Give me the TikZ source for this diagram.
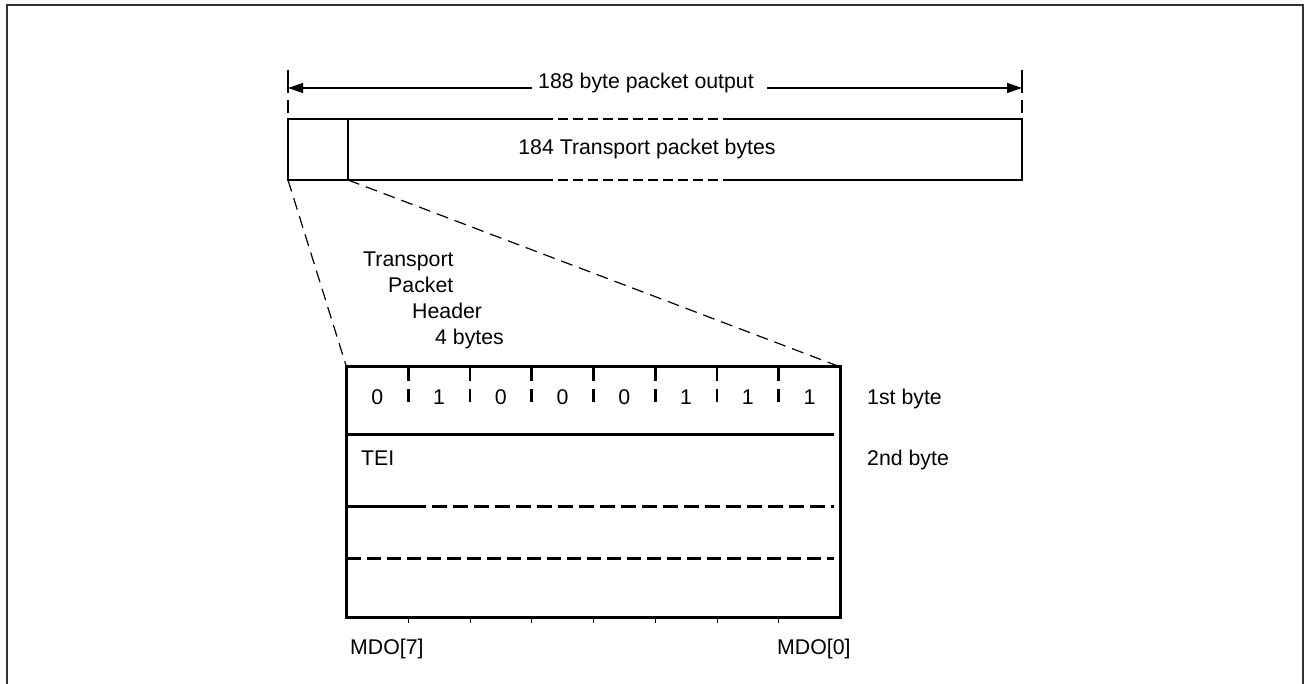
\documentclass[tikz,border=0pt]{standalone}
\usepackage{fontspec}
\setmainfont{Liberation Sans}
\usetikzlibrary{arrows.meta}
\begin{document}
\begin{tikzpicture}[x=1pt,y=-1pt,
  lbl/.style={font=\fontsize{21.3}{25}\selectfont, inner sep=0pt, text height=15.3pt, text depth=0pt},
  thin/.style={line width=1.3pt, black},
  thick/.style={line width=3pt, black},
  zoomline/.style={line width=1.2pt, dash pattern=on 12pt off 7pt},
  dimarrow/.style={line width=1.2pt, -{Triangle[length=15pt,width=10pt]}},
  extline/.style={line width=1.3pt, dash pattern=on 23pt off 7pt on 13pt off 20pt}]
\useasboundingbox (0,0) rectangle (1309,684);
% outer frame
\draw[line width=2pt, black!80] (7,700) -- (7,5) -- (1303,5) -- (1303,700);

% dimension line
\node[lbl] (title) at (646,81) {188 byte packet output};
\coordinate (al) at (288,88);
\coordinate (ar) at (1022,88);
\coordinate (tl) at (532,88);
\coordinate (tr) at (767,88);
\draw[dimarrow] (tl) -- (al);
\draw[dimarrow] (tr) -- (ar);
\draw[extline] (288,70) -- (288,119);
\draw[extline] (1022,70) -- (1022,119);
\draw[line width=2.5pt] (288,70) -- (288,81);
\draw[line width=2.5pt] (1022,70) -- (1022,81);

% packet box
\coordinate (p1) at (288,119);
\coordinate (p2) at (1022,119);
\coordinate (p3) at (1022,180);
\coordinate (p4) at (288,180);
\coordinate (pd1) at (348,119);
\coordinate (pd2) at (348,180);
\draw[thin] (543,119) -- (p1) -- (p4) -- (543,180);
\draw[thin] (730,119) -- (p2) -- (p3) -- (730,180);
\draw[thin, dash pattern=on 10pt off 5pt] (543,119) -- (730,119);
\draw[thin, dash pattern=on 10pt off 5pt] (543,180) -- (730,180);
\draw[thin] (pd1) -- (pd2);
\node[lbl] (payload) at (647,147) {184 Transport packet bytes};

% header box
\coordinate (b1) at (346.5,367);
\coordinate (b2) at (840.5,367);
\coordinate (b3) at (840.5,617);
\coordinate (b4) at (346.5,617);
\draw[zoomline] (p4) -- (b1);
\draw[zoomline] (pd2) -- (b2);
\draw[thick] (b1) rectangle (b3);
\draw[thick] (346.5,434) -- (834,434);
\draw[thick] (346.5,506) -- (411,506);
\draw[thick, dash pattern=on 15pt off 6pt] (411,506) -- (834,506);
\draw[thick, dash pattern=on 14pt off 6pt] (346.5,558) -- (834,558);

\foreach \i in {1,...,7}{
  \draw[line width=2.7pt, dash pattern=on 13pt off 8pt] ({346.5+\i*61.75},368.5) -- ({346.5+\i*61.75},402);
  \draw[line width=1pt] ({346.5+\i*61.75},618.5) -- ({346.5+\i*61.75},623);
}
\foreach \b [count=\i from 0] in {0,1,0,0,0,1,1,1}{
  \node[lbl] (bit\i) at ({346.5+(\i+0.5)*61.75},397) {\b};
}

\node[lbl, anchor=west] (hdr1) at (363,259) {Transport};
\node[lbl, anchor=west] (hdr2) at (388,285) {Packet};
\node[lbl, anchor=west] (hdr3) at (412,311) {Header};
\node[lbl, anchor=west] (hdr4) at (435,337) {4 bytes};

\node[lbl, anchor=west] (tei) at (361,458) {TEI};
\node[lbl, anchor=west] (b1st) at (867,397) {1st byte};
\node[lbl, anchor=west] (b2nd) at (867,458) {2nd byte};
\node[lbl, anchor=west] (mdo7) at (350,647) {MDO[7]};
\node[lbl, anchor=west] (mdo0) at (777,647) {MDO[0]};
\end{tikzpicture}
\end{document}
